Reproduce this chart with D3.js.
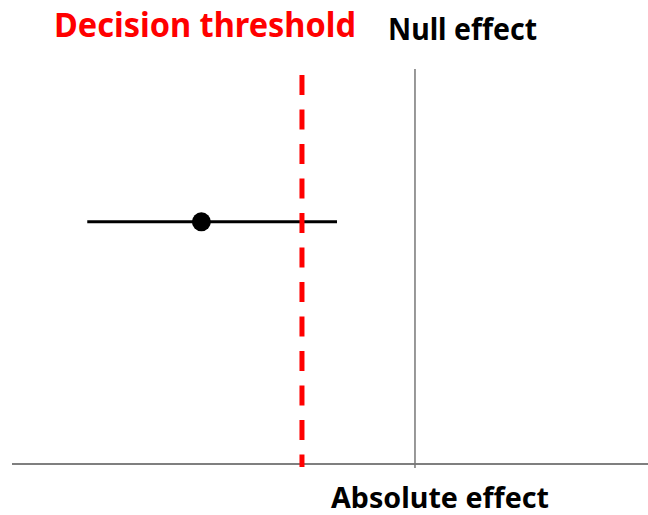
<!DOCTYPE html>
<html><head><meta charset="utf-8">
<script src="https://cdn.jsdelivr.net/npm/d3@7"></script>
<style>html,body{margin:0;padding:0;background:#fff;}svg{display:block;}</style>
</head><body>
<svg id="chart" width="648" height="515"></svg>
<script>
// Data
const nullEffect = 0;
const threshold = -1.0;
const estimates = [-1.89];
const ciLower = [-2.9];
const ciUpper = [-0.69];
const estimateY = [0.613];
const labels = {threshold: "Decision threshold", nullEffect: "Null effect", xAxis: "Absolute effect"};

const svg = d3.select("#chart");
const x = d3.scaleLinear().domain([-3.566, 2.062]).range([12, 648]);
const y = d3.scaleLinear().domain([0, 1]).range([464, 69]);
const font = "'Noto Sans', 'Open Sans', sans-serif";

// baseline axis
svg.append("line").attr("x1", x.range()[0]).attr("x2", x.range()[1])
  .attr("y1", y(0)).attr("y2", y(0)).attr("stroke", "#555").attr("stroke-width", 1.5);

// null effect line
svg.append("line").attr("x1", x(nullEffect)).attr("x2", x(nullEffect))
  .attr("y1", y(1)).attr("y2", y(0) + 4).attr("stroke", "#777").attr("stroke-width", 1.5);

// error bar
svg.selectAll(".ci").data(estimates).enter().append("line")
  .attr("x1", (d, i) => x(ciLower[i])).attr("x2", (d, i) => x(ciUpper[i]))
  .attr("y1", (d, i) => y(estimateY[i])).attr("y2", (d, i) => y(estimateY[i]))
  .attr("stroke", "#000").attr("stroke-width", 3);

svg.selectAll(".pt").data(estimates).enter().append("circle")
  .attr("cx", d => x(d)).attr("cy", (d, i) => y(estimateY[i])).attr("r", 9.5).attr("fill", "#000");

// threshold dashed line
svg.append("line").attr("x1", x(threshold)).attr("x2", x(threshold))
  .attr("y1", y(1) + 6).attr("y2", y(0) + 3).attr("stroke", "#ff0000")
  .attr("stroke-width", 5).attr("stroke-dasharray", "20,14.5");

function label(text, cx0, x1, baseline, size, color) {
  svg.append("text").attr("x", cx0).attr("y", baseline).text(text)
    .attr("font-family", font).attr("font-weight", "bold").attr("font-size", size)
    .attr("fill", color).attr("textLength", x1 - cx0).attr("lengthAdjust", "spacingAndGlyphs");
}
label(labels.threshold, 54, 356, 37, 34, "#ff0000");
label(labels.nullEffect, 388, 537, 40, 30, "#000");
label(labels.xAxis, 331, 549, 508, 29, "#000");
</script>
</body></html>
